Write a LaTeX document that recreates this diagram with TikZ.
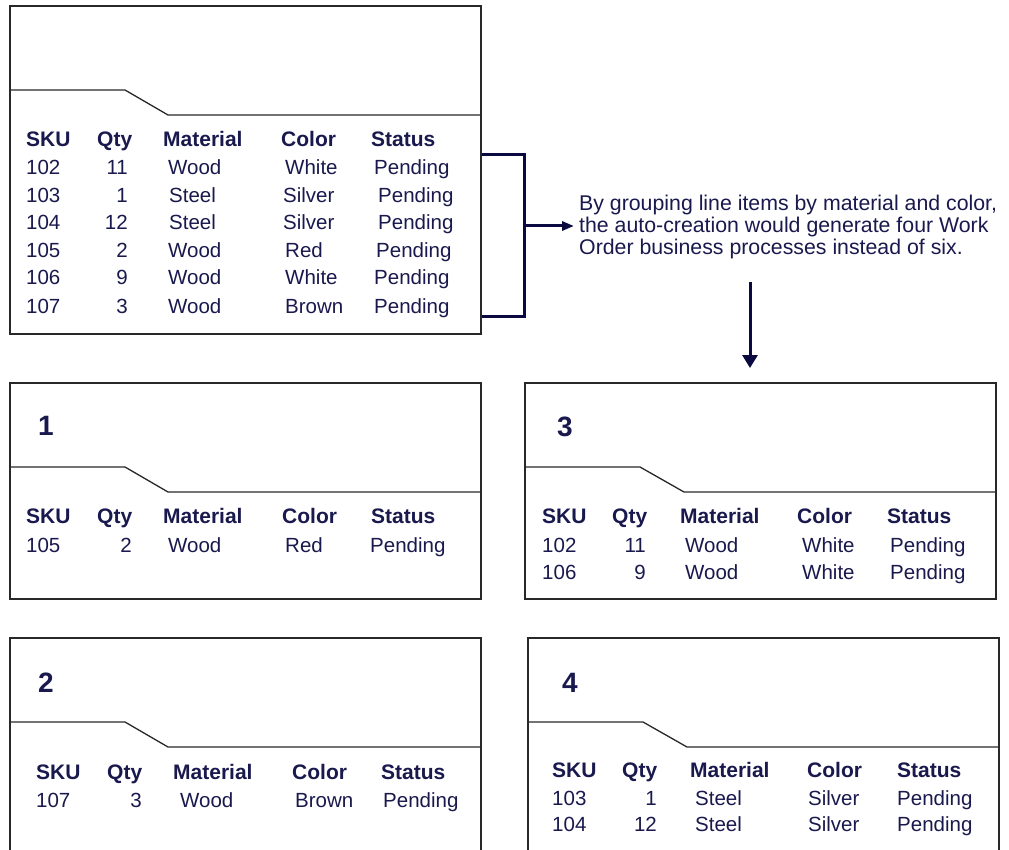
\documentclass[tikz,border=0pt]{standalone}
\usepackage{fontspec}
\setmainfont{Liberation Sans}
\usetikzlibrary{arrows.meta}
\definecolor{ink}{RGB}{25,25,78}
\definecolor{navy}{RGB}{10,10,64}
\definecolor{frame}{RGB}{40,40,40}
\tikzset{
  orderbox/.style={draw=frame, line width=1.6pt, inner sep=0pt, anchor=north west},
  divline/.style={draw=frame, line width=1.3pt},
  hd/.style={anchor=base west, inner sep=0pt, text=ink, font=\fontsize{21}{24}\selectfont\bfseries},
  cell/.style={anchor=base west, inner sep=0pt, text=ink, font=\fontsize{20.5}{24}\selectfont},
  num/.style={anchor=base east, inner sep=0pt, text=ink, font=\fontsize{20.5}{24}\selectfont},
  boxno/.style={anchor=base west, inner sep=0pt, text=ink, font=\fontsize{28}{30}\selectfont\bfseries},
  captxt/.style={anchor=base west, inner sep=0pt, text=ink, font=\fontsize{21.3}{22}\selectfont},
  conn/.style={draw=navy, line width=3pt},
}
\begin{document}
\begin{tikzpicture}[x=1pt,y=-1pt]
\useasboundingbox (0,0) rectangle (1009,850);
\fill[white] (0,0) rectangle (1009,850);
\clip (0,0) rectangle (1009,850);

% ---------- boxes ----------
\node[orderbox, minimum width=471pt, minimum height=328pt] (top) at (9,5) {};
\node[orderbox, minimum width=471pt, minimum height=216pt] (box1) at (9,382) {};
\node[orderbox, minimum width=471pt, minimum height=260pt] (box2) at (9,637) {};
\node[orderbox, minimum width=471pt, minimum height=216pt] (box3) at (524,382) {};
\node[orderbox, minimum width=471pt, minimum height=260pt] (box4) at (527,637) {};

% ---------- dividers ----------
\draw[divline] (9,90) -- (125,90) -- (168,115) -- (480,115);
\draw[divline] (9,467) -- (125,467) -- (168,492) -- (480,492);
\draw[divline] (9,722) -- (125,722) -- (168,747) -- (480,747);
\draw[divline] (524,467) -- (640,467) -- (684,492) -- (995,492);
\draw[divline] (527,722) -- (643,722) -- (687,747) -- (998,747);

% ---------- top box table ----------
\node[hd] (th1) at (26,147) {SKU};
\node[hd] (th2) at (97,147) {Qty};
\node[hd] (th3) at (163,147) {Material};
\node[hd] (th4) at (281,147) {Color};
\node[hd] (th5) at (371,147) {Status};
\foreach \r/\y/\s/\q/\m/\mx/\c/\cx/\sx in {
  1/175/102/11/Wood/168/White/285/374,
  2/203/103/1/Steel/169/Silver/283/378,
  3/230/104/12/Steel/169/Silver/283/378,
  4/258/105/2/Wood/168/Red/285/376,
  5/285/106/9/Wood/168/White/285/374,
  6/313/107/3/Wood/168/Brown/285/374}{
  \node[cell] (t\r-s) at (26,\y) {\s};
  \node[num] (t\r-q) at (128,\y) {\q};
  \node[cell] (t\r-m) at (\mx,\y) {\m};
  \node[cell] (t\r-c) at (\cx,\y) {\c};
  \node[cell] (t\r-t) at (\sx,\y) {Pending};
}

% ---------- box 1 ----------
\node[boxno] (n1) at (38,435) {1};
\node[hd] (ah1) at (26,523) {SKU};
\node[hd] (ah2) at (97,523) {Qty};
\node[hd] (ah3) at (163,523) {Material};
\node[hd] (ah4) at (282,523) {Color};
\node[hd] (ah5) at (371,523) {Status};
\node[cell] (a1-s) at (26,552) {105};
\node[num] (a1-q) at (132,552) {2};
\node[cell] (a1-m) at (168,552) {Wood};
\node[cell] (a1-c) at (285,552) {Red};
\node[cell] (a1-t) at (370,552) {Pending};

% ---------- box 3 ----------
\node[boxno] (n3) at (557,436) {3};
\node[hd] (ch1) at (542,523) {SKU};
\node[hd] (ch2) at (612,523) {Qty};
\node[hd] (ch3) at (680,523) {Material};
\node[hd] (ch4) at (797,523) {Color};
\node[hd] (ch5) at (887,523) {Status};
\foreach \r/\y/\s/\q in {1/552/102/11, 2/579/106/9}{
  \node[cell] (c\r-s) at (542,\y) {\s};
  \node[num] (c\r-q) at (646,\y) {\q};
  \node[cell] (c\r-m) at (685,\y) {Wood};
  \node[cell] (c\r-c) at (802,\y) {White};
  \node[cell] (c\r-t) at (890,\y) {Pending};
}

% ---------- box 2 ----------
\node[boxno] (n2) at (38,692) {2};
\node[hd] (bh1) at (36,779) {SKU};
\node[hd] (bh2) at (107,779) {Qty};
\node[hd] (bh3) at (173,779) {Material};
\node[hd] (bh4) at (292,779) {Color};
\node[hd] (bh5) at (381,779) {Status};
\node[cell] (b1-s) at (36,807) {107};
\node[num] (b1-q) at (142,807) {3};
\node[cell] (b1-m) at (180,807) {Wood};
\node[cell] (b1-c) at (295,807) {Brown};
\node[cell] (b1-t) at (383,807) {Pending};

% ---------- box 4 ----------
\node[boxno] (n4) at (562,692) {4};
\node[hd] (dh1) at (552,777) {SKU};
\node[hd] (dh2) at (622,777) {Qty};
\node[hd] (dh3) at (690,777) {Material};
\node[hd] (dh4) at (807,777) {Color};
\node[hd] (dh5) at (897,777) {Status};
\foreach \r/\y/\s/\q in {1/805/103/1, 2/831/104/12}{
  \node[cell] (d\r-s) at (552,\y) {\s};
  \node[num] (d\r-q) at (657,\y) {\q};
  \node[cell] (d\r-m) at (695,\y) {Steel};
  \node[cell] (d\r-c) at (808,\y) {Silver};
  \node[cell] (d\r-t) at (897,\y) {Pending};
}

% ---------- caption ----------
\node[captxt] (cap1) at (579,211) {By grouping line items by material and color,};
\node[captxt] (cap2) at (579,233) {the auto-creation would generate four Work};
\node[captxt] (cap3) at (579,255) {Order business processes instead of six.};

% ---------- connectors ----------
\coordinate (brA) at (top.east |- 0,155);
\coordinate (brB) at (524,155);
\coordinate (brC) at (524,316);
\coordinate (brD) at (top.east |- 0,316);
\coordinate (brM) at (524,226);
\coordinate (capIn) at (574,226);
\draw[conn, line join=miter] (brA) -- (brB) -- (brC) -- (brD);
\draw[conn, -{Triangle[length=12pt,width=9pt]}] (brM) -- (capIn);
\coordinate (dnA) at (750,282);
\coordinate (dnB) at (750,368);
\draw[conn, -{Triangle[length=13pt,width=15pt]}] (dnA) -- (dnB);
\end{tikzpicture}
\end{document}
